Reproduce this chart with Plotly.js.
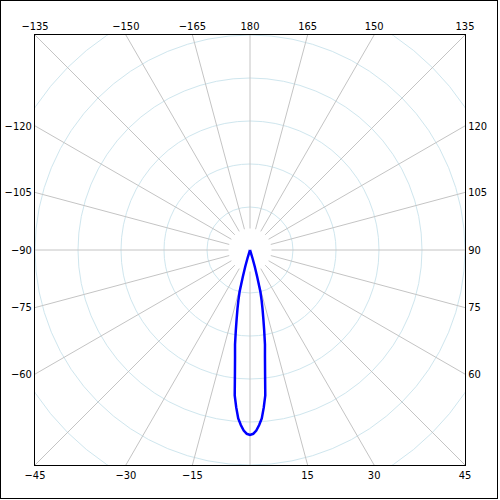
<!DOCTYPE html>
<html>
<head>
<meta charset="utf-8">
<script src="https://cdn.plot.ly/plotly-3.0.1.min.js"></script>
<style>
html,body{margin:0;padding:0;background:#fff;}
#wrap{position:relative;width:500px;height:500px;}
#chart{width:500px;height:500px;}
#frame{position:absolute;left:0;top:0;width:498px;height:499px;border:1px solid #000;box-sizing:border-box;pointer-events:none;}
</style>
</head>
<body>
<div id="wrap"><div id="chart"></div><div id="frame"></div></div>
<script>
// Angles (deg, 0 = bottom, positive to the right) and relative radius
const thetaDeg = [-19,-18,-17,-16,-15,-14,-13,-12,-11,-10,-9,-8,-7,-6,-5,-4,-3,-2,-1,0,1,2,3,4,5,6,7,8,9,10,11,12,13,14,15,16,17,18,19];
const rValues  = [0,0.01,0.04,0.08,0.13,0.20,0.24,0.28,0.325,0.38,0.445,0.50,0.575,0.68,0.735,0.785,0.815,0.84,0.855,0.86,0.855,0.84,0.815,0.785,0.735,0.68,0.575,0.50,0.445,0.38,0.325,0.28,0.24,0.20,0.13,0.08,0.04,0.01,0];

// Tick labels around the square frame
const bottomLabels = [-45,-30,-15,15,30,45];
const topLabels = [-135,-150,-165,180,165,150,135];
const leftLabels = [-120,-105,-90,-75,-60];
const rightLabels = [120,105,90,75,60];

// Grid
const spokeAngles = [0,15,30,45,60,75,90,105,120,135,150,165,180,195,210,225,240,255,270,285,300,315,330,345];
const circleRadii = [0.2,0.4,0.6,0.8,1.0,1.2];
const spokeInner = 0.1, spokeOuter = 1.6;

const rad = d => d*Math.PI/180;
const fmt = v => (v<0 ? '\u2212'+Math.abs(v) : String(v));

// direction vector of angle a: (sin a, -cos a)
const bottomPos = bottomLabels.map(a => Math.tan(rad(a)));
const topPos = topLabels.map(a => -Math.tan(rad(a)));
const leftPos = leftLabels.map(a => Math.cos(rad(a))/Math.sin(rad(a)));
const rightPos = rightLabels.map(a => -Math.cos(rad(a))/Math.sin(rad(a)));

const sx = [], sy = [];
spokeAngles.forEach(a => {
  const s = Math.sin(rad(a)), c = -Math.cos(rad(a));
  sx.push(spokeInner*s, spokeOuter*s, null);
  sy.push(spokeInner*c, spokeOuter*c, null);
});

const tickFont = {family:'DejaVu Sans Condensed, Liberation Sans, Arial, sans-serif', size:11, color:'#000'};

const traces = [
  {type:'scatter', x:sx, y:sy, xaxis:'x2', yaxis:'y2', mode:'lines',
   line:{color:'#c4c4c4', width:1}, hoverinfo:'skip', showlegend:false},
  {type:'scatterpolar', subplot:'polar', theta:thetaDeg, r:rValues, mode:'lines',
   line:{color:'#0000ff', width:2.5}, showlegend:false}
];

const shapes = circleRadii.map(r => ({type:'circle', xref:'x', yref:'y', x0:-r, x1:r, y0:-r, y1:r,
  line:{color:'#cfe6ee', width:1}, layer:'below'}));

const axBase = {range:[-1,1], showgrid:false, zeroline:false, ticks:'', fixedrange:true,
  showline:true, linecolor:'#000', linewidth:1, tickfont:tickFont, tickmode:'array'};

const layout = {
  width:500, height:500,
  margin:{l:35, r:35, t:35, b:35},
  paper_bgcolor:'#fff', plot_bgcolor:'#fff',
  showlegend:false,
  xaxis:Object.assign({}, axBase, {side:'bottom', tickvals:bottomPos, ticktext:bottomLabels.map(fmt)}),
  yaxis:Object.assign({}, axBase, {side:'left', tickvals:leftPos, ticktext:leftLabels.map(fmt)}),
  xaxis2:Object.assign({}, axBase, {side:'top', overlaying:'x', tickvals:topPos, ticktext:topLabels.map(fmt)}),
  yaxis2:Object.assign({}, axBase, {side:'right', overlaying:'y', tickvals:rightPos, ticktext:rightLabels.map(fmt)}),
  polar:{
    domain:{x:[0,1], y:[0,1]},
    bgcolor:'rgba(0,0,0,0)',
    radialaxis:{range:[0,1], visible:false},
    angularaxis:{rotation:270, direction:'counterclockwise', visible:false, showgrid:false, showline:false, ticks:''}
  },
  shapes:shapes
};

Plotly.newPlot('chart', traces, layout, {displayModeBar:false, staticPlot:true});
</script>
</body>
</html>
